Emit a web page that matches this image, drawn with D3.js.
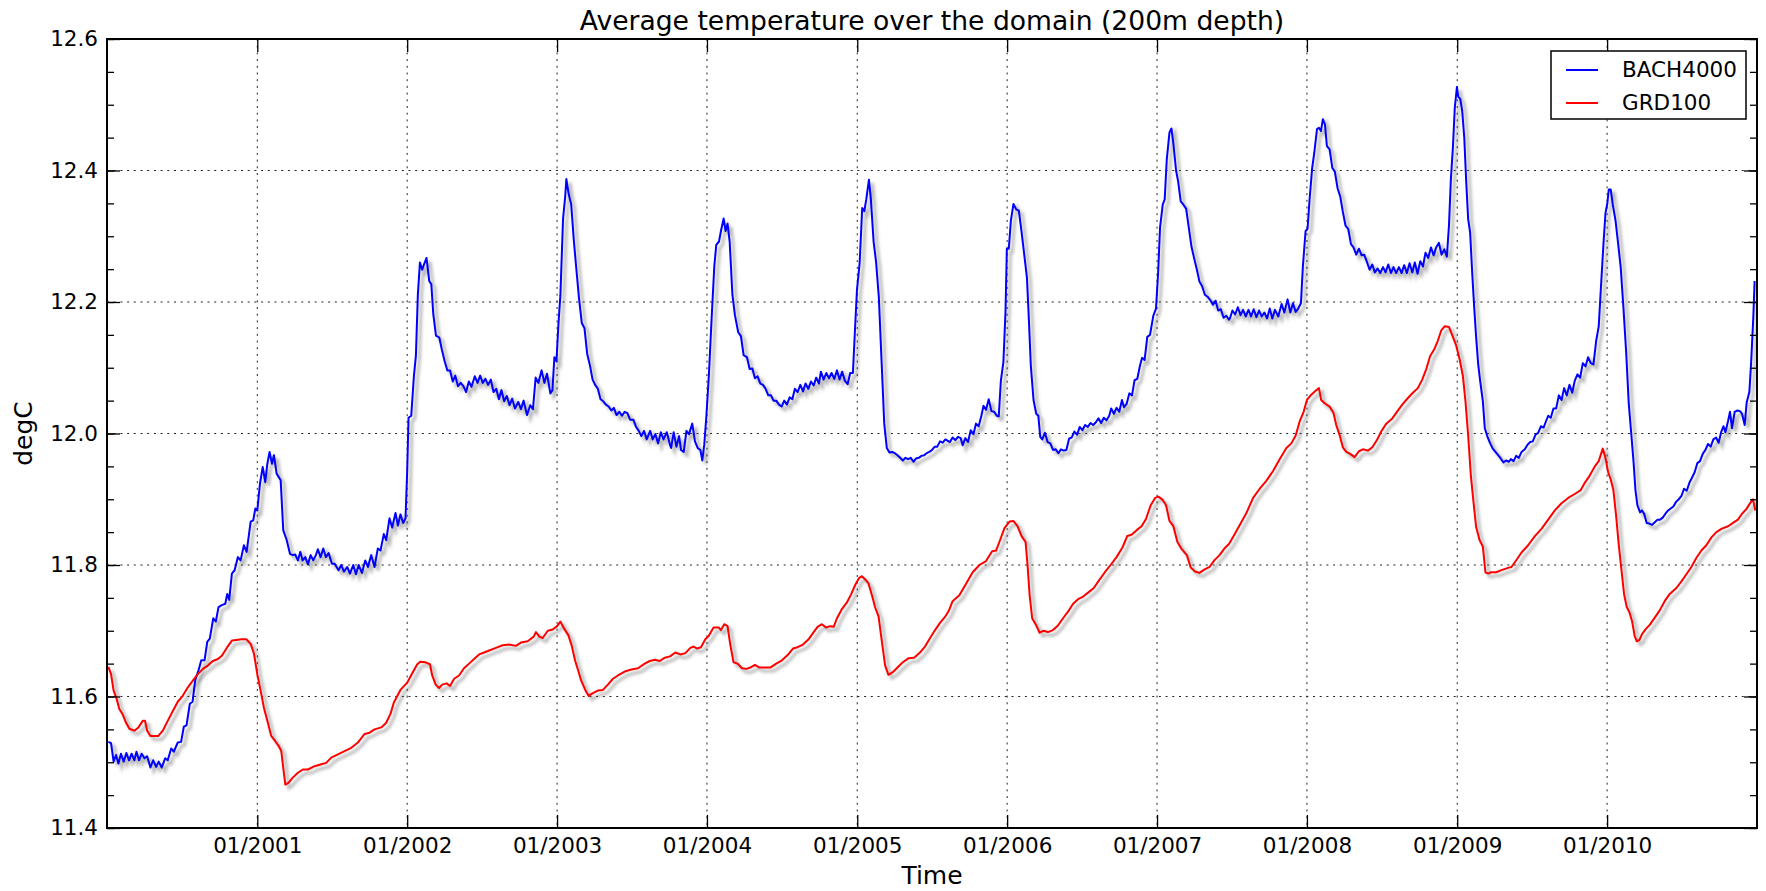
<!DOCTYPE html>
<html>
<head>
<meta charset="utf-8">
<title>Average temperature over the domain (200m depth)</title>
<script src="https://cdn.jsdelivr.net/npm/d3@7"></script>
<style>
  html, body { margin: 0; padding: 0; background: #fff; }
  svg { display: block; font-family: "DejaVu Sans", sans-serif; }
</style>
</head>
<body>
<svg id="chart" width="1766" height="891"></svg>
<script>
"use strict";

const START_YEAR = 2000;
const END_YEAR = 2011;
const yearTicks = [2001, 2002, 2003, 2004, 2005, 2006, 2007, 2008, 2009, 2010];
const seriesNames = ["BACH4000", "GRD100"];
const seriesColors = ["#0000ff", "#ff0000"];

// time is in years since 01/2000, values in degC

const bachT = [
  0.009,0.027,0.044,0.060,0.076,0.093,0.111,0.129,0.147,0.164,
  0.182,0.196,0.213,0.231,0.249,0.267,0.289,0.307,0.327,0.344,
  0.364,0.387,0.404,0.427,0.444,0.471,0.493,0.511,0.529,0.551,
  0.569,0.587,0.609,0.627,0.649,0.667,0.684,0.707,0.724,0.742,
  0.764,0.787,0.800,0.813,0.831,0.849,0.871,0.889,0.911,0.929,
  0.956,0.973,0.987,1.000,1.018,1.036,1.053,1.067,1.082,1.098,
  1.111,1.129,1.156,1.173,1.196,1.218,1.236,1.253,1.271,1.287,
  1.302,1.320,1.338,1.356,1.373,1.391,1.404,1.422,1.440,1.458,
  1.476,1.498,1.516,1.542,1.560,1.578,1.600,1.618,1.640,1.658,
  1.676,1.698,1.720,1.738,1.760,1.782,1.804,1.822,1.844,1.860,1.882,
  1.900,1.922,1.938,1.955,1.973,1.989,2.000,2.009,2.027,2.045,
  2.058,2.071,2.085,2.100,2.112,2.129,2.147,2.161,2.174,2.192,
  2.214,2.232,2.250,2.268,2.286,2.304,2.321,2.339,2.357,2.375,
  2.393,2.411,2.429,2.451,2.469,2.487,2.504,2.522,2.540,2.558,
  2.576,2.594,2.612,2.629,2.647,2.665,2.683,2.701,2.719,2.741,
  2.759,2.777,2.799,2.821,2.839,2.857,2.875,2.897,2.915,2.933,
  2.955,2.969,2.982,2.996,3.009,3.022,3.040,3.054,3.062,3.076,
  3.085,3.094,3.112,3.129,3.147,3.165,3.183,3.201,3.219,3.237,
  3.254,3.272,3.290,3.308,3.326,3.344,3.362,3.379,3.397,3.415,
  3.433,3.451,3.469,3.487,3.509,3.527,3.545,3.562,3.580,3.598,
  3.621,3.638,3.656,3.674,3.692,3.710,3.732,3.754,
  3.761,3.778,3.796,3.814,3.827,3.845,3.863,3.880,3.902,3.920,
  3.938,3.956,3.969,3.982,3.996,4.013,4.031,4.049,4.062,4.080,
  4.093,4.111,4.124,4.137,4.151,4.169,4.186,4.208,4.226,4.244,
  4.266,4.284,4.302,4.319,4.337,4.355,4.373,4.390,4.408,4.426,
  4.443,4.461,4.479,4.497,4.514,4.532,4.550,4.568,4.585,4.603,
  4.621,4.639,4.656,4.674,4.692,4.710,4.727,4.745,4.758,4.776,
  4.794,4.812,4.829,4.847,4.865,4.882,4.900,4.918,4.936,4.953,
  4.971,4.984,4.998,5.016,5.033,5.047,5.060,5.078,5.091,5.109,
  5.126,5.144,5.162,5.180,5.197,5.215,5.233,5.251,5.268,5.286,
  5.304,5.322,5.339,5.357,5.375,5.392,5.410,5.428,5.446,5.463,
  5.481,5.499,5.517,5.534,5.552,5.570,5.588,5.610,
  5.618,5.636,5.654,5.672,5.690,5.703,5.721,5.739,5.757,5.775,
  5.792,5.810,5.828,5.842,5.859,5.877,5.895,5.913,5.931,5.944,
  5.958,5.975,5.989,5.998,6.011,6.025,6.042,6.060,6.078,6.096,
  6.114,6.132,6.145,6.158,6.176,6.194,6.208,6.221,6.234,6.252,
  6.270,6.288,6.306,6.324,6.342,6.359,6.377,6.395,6.413,6.431,
  6.449,6.467,6.484,6.502,6.520,6.538,6.556,6.574,6.592,6.609,
  6.627,6.645,6.663,6.681,6.694,6.712,6.730,6.748,6.766,6.779,
  6.797,6.815,6.833,6.850,6.868,6.886,6.900,6.917,6.935,6.953,
  6.975,6.993,7.007,7.020,7.038,7.051,7.065,7.083,7.096,7.109,
  7.127,7.141,7.158,7.176,7.194,7.212,7.230,7.248,7.266,7.283,
  7.301,7.319,7.337,7.355,7.373,7.391,7.408,7.426,7.444,7.462,7.480,
  7.486,7.503,7.521,7.539,7.557,7.574,7.592,7.610,7.627,7.645,
  7.663,7.681,7.698,7.716,7.734,7.752,7.769,7.787,7.809,7.831,
  7.849,7.871,7.889,7.907,7.925,7.942,7.960,7.973,7.991,8.004,
  8.018,8.035,8.049,8.067,8.080,8.093,8.106,8.120,8.133,8.151,
  8.169,8.186,8.204,8.222,8.239,8.257,8.275,8.293,8.310,8.328,
  8.346,8.364,8.381,8.399,8.417,8.435,8.452,8.470,8.488,8.506,
  8.523,8.541,8.559,8.576,8.594,8.612,8.630,8.647,8.665,8.683,
  8.701,8.718,8.736,8.754,8.772,8.789,8.807,8.825,8.843,8.860,
  8.878,8.896,8.914,8.931,8.945,8.958,8.971,8.984,8.998,9.007,
  9.020,9.033,9.047,9.060,9.073,9.086,9.100,9.113,9.126,9.140,
  9.153,9.171,9.184,9.202,9.220,9.237,9.255,9.273,9.290,9.308,
  9.326,9.344,
  9.358,9.376,9.393,9.411,9.429,9.451,9.469,9.487,9.504,9.522,
  9.540,9.558,9.576,9.593,9.607,9.624,9.642,9.660,9.678,9.696,
  9.713,9.731,9.749,9.767,9.784,9.802,9.820,9.838,9.856,9.873,
  9.891,9.909,9.927,9.944,9.962,9.976,9.989,10.002,10.011,10.024,
  10.038,10.056,10.073,10.091,10.109,10.127,10.144,10.162,10.176,10.189,
  10.202,10.220,10.233,10.247,10.264,10.282,10.300,10.318,10.336,10.353,
  10.371,10.389,10.407,10.424,10.442,10.460,10.478,10.496,10.513,10.531,
  10.549,10.567,10.584,10.602,10.620,10.638,10.656,10.673,10.691,10.709,
  10.727,10.744,10.762,10.776,10.789,10.807,10.820,10.833,10.851,10.869,
  10.887,10.900,10.918,10.931,10.949,10.962,10.976,10.984
];

const bachV = [
  11.531,11.529,11.501,11.511,11.498,11.513,11.501,11.514,11.503,11.513,
  11.503,11.516,11.503,11.513,11.506,11.509,11.492,11.503,11.493,11.501,
  11.492,11.506,11.503,11.521,11.516,11.530,11.531,11.554,11.556,11.589,
  11.592,11.625,11.640,11.655,11.655,11.683,11.688,11.719,11.714,11.736,
  11.739,11.741,11.756,11.747,11.787,11.792,11.812,11.807,11.830,11.820,
  11.866,11.868,11.886,11.883,11.924,11.949,11.926,11.954,11.972,11.954,
  11.967,11.939,11.929,11.853,11.838,11.817,11.815,11.816,11.807,11.820,
  11.807,11.812,11.801,11.815,11.807,11.815,11.824,11.812,11.825,11.812,
  11.818,11.802,11.802,11.792,11.800,11.790,11.797,11.787,11.800,11.786,
  11.800,11.788,11.807,11.797,11.815,11.797,11.825,11.822,11.847,11.838,11.871,
  11.857,11.879,11.860,11.877,11.864,11.871,11.943,12.024,12.027,12.088,
  12.118,12.210,12.260,12.249,12.257,12.267,12.232,12.227,12.182,12.149,
  12.146,12.127,12.110,12.096,12.096,12.079,12.088,12.072,12.077,12.072,
  12.063,12.079,12.071,12.087,12.077,12.088,12.077,12.083,12.074,12.082,
  12.063,12.068,12.052,12.066,12.049,12.057,12.043,12.053,12.038,12.048,
  12.037,12.050,12.028,12.043,12.037,12.085,12.077,12.096,12.077,12.091,
  12.061,12.066,12.116,12.110,12.166,12.210,12.327,12.360,12.387,12.366,
  12.357,12.349,12.293,12.249,12.204,12.168,12.160,12.121,12.104,12.082,
  12.074,12.068,12.052,12.049,12.044,12.041,12.035,12.039,12.028,12.033,
  12.027,12.033,12.031,12.021,12.021,12.010,12.004,11.996,12.004,11.991,
  12.004,11.991,11.999,11.985,12.002,11.991,12.002,11.982,
  11.978,12.002,11.980,11.996,11.975,11.972,12.004,11.999,12.015,11.988,
  11.978,11.975,11.959,11.983,12.026,12.090,12.175,12.255,12.287,12.292,
  12.308,12.327,12.308,12.319,12.292,12.212,12.180,12.154,12.148,12.119,
  12.116,12.098,12.099,12.084,12.087,12.076,12.074,12.068,12.058,12.058,
  12.050,12.050,12.044,12.041,12.050,12.044,12.055,12.052,12.068,12.063,
  12.074,12.064,12.076,12.068,12.079,12.073,12.085,12.076,12.094,12.082,
  12.092,12.084,12.092,12.083,12.096,12.082,12.094,12.080,12.075,12.092,
  12.092,12.154,12.218,12.260,12.343,12.338,12.356,12.386,12.356,12.292,
  12.260,12.207,12.111,12.015,11.978,11.971,11.972,11.970,11.967,11.963,
  11.959,11.963,11.961,11.963,11.957,11.962,11.963,11.966,11.967,11.970,
  11.972,11.975,11.980,11.980,11.988,11.986,11.991,11.988,
  11.987,11.994,11.990,11.995,11.993,11.982,11.993,11.987,12.005,11.999,
  12.015,12.011,12.027,12.042,12.036,12.052,12.034,12.033,12.027,12.026,
  12.080,12.109,12.185,12.281,12.281,12.324,12.349,12.341,12.339,12.307,
  12.272,12.237,12.173,12.103,12.051,12.030,12.027,11.995,11.991,12.001,
  11.987,11.985,11.975,11.976,11.970,11.976,11.974,11.975,11.992,11.994,
  12.003,11.998,12.010,12.005,12.013,12.010,12.016,12.013,12.017,12.023,
  12.016,12.024,12.020,12.027,12.038,12.030,12.039,12.033,12.051,12.040,
  12.045,12.061,12.058,12.081,12.083,12.103,12.115,12.112,12.147,12.150,
  12.179,12.190,12.243,12.313,12.348,12.356,12.417,12.458,12.464,12.441,
  12.400,12.383,12.353,12.348,12.342,12.313,12.284,12.266,12.249,12.231,
  12.224,12.211,12.208,12.203,12.196,12.202,12.187,12.189,12.176,12.179,12.173,
  12.175,12.187,12.181,12.192,12.180,12.188,12.178,12.188,12.178,12.189,
  12.177,12.187,12.178,12.184,12.175,12.190,12.175,12.188,12.178,12.197,
  12.184,12.204,12.184,12.198,12.185,12.190,12.198,12.254,12.308,12.311,
  12.357,12.404,12.427,12.463,12.465,12.460,12.478,12.470,12.437,12.432,
  12.404,12.398,12.373,12.360,12.337,12.316,12.311,12.288,12.283,12.272,
  12.281,12.271,12.272,12.261,12.249,12.257,12.245,12.251,12.244,12.253,
  12.245,12.257,12.244,12.253,12.244,12.253,12.244,12.256,12.244,12.259,
  12.245,12.260,12.243,12.262,12.254,12.275,12.267,12.283,12.271,12.283,
  12.290,12.272,12.280,12.269,12.316,12.388,12.434,12.496,12.527,12.512,
  12.509,12.491,12.450,12.383,12.326,12.306,12.244,12.193,12.147,12.105,
  12.080,12.049,12.008,11.995,11.985,11.977,11.972,11.967,11.962,11.956,
  11.959,11.957,
  11.961,11.958,11.966,11.963,11.972,11.976,11.983,11.987,11.988,11.998,
  12.001,12.011,12.009,12.019,12.027,12.024,12.038,12.038,12.058,12.051,
  12.069,12.058,12.074,12.062,12.080,12.090,12.085,12.107,12.102,12.116,
  12.107,12.105,12.141,12.163,12.235,12.290,12.335,12.351,12.371,12.371,
  12.348,12.324,12.290,12.252,12.191,12.124,12.047,11.997,11.958,11.914,
  11.891,11.880,11.883,11.878,11.864,11.863,11.861,11.865,11.869,11.869,
  11.872,11.878,11.883,11.886,11.889,11.896,11.900,11.905,11.916,11.913,
  11.925,11.933,11.941,11.955,11.958,11.969,11.975,11.984,11.980,11.991,
  11.994,11.986,12.003,12.011,12.002,12.019,12.033,12.008,12.033,12.035,
  12.034,12.030,12.013,12.047,12.063,12.113,12.180,12.232
];

const grdT = [
  0.009,0.027,0.044,0.062,0.082,0.104,0.127,0.149,0.182,0.209,
  0.238,0.253,0.267,0.289,0.316,0.342,0.371,0.404,0.438,0.471,
  0.504,0.538,0.571,0.604,0.638,0.671,0.704,0.738,0.764,0.800,
  0.831,0.860,0.893,0.927,0.956,0.978,1.000,1.022,1.044,1.067,
  1.093,1.120,1.142,1.160,1.173,1.187,1.209,1.238,1.271,1.304,
  1.338,1.382,1.427,1.460,1.493,1.538,1.582,1.627,1.671,1.716,
  1.749,1.782,1.827,1.860,1.889,
  1.911,1.955,2.000,2.033,2.067,2.089,2.123,2.152,2.167,2.190,
  2.212,2.234,2.263,2.286,2.313,2.346,2.379,2.413,2.446,2.480,
  2.513,2.547,2.592,2.636,2.681,2.725,2.759,2.804,2.844,2.859,
  2.882,2.904,2.938,2.971,3.000,3.022,3.045,3.076,3.098,3.121,
  3.143,3.161,3.188,3.210,3.239,3.272,3.306,3.339,3.373,3.406,
  3.451,3.496,3.540,3.585,3.618,3.652,3.685,3.719,3.754,
  3.789,3.823,3.856,3.889,3.911,3.933,3.960,3.989,4.011,4.044,
  4.078,4.093,4.115,4.137,4.155,4.177,4.204,4.233,4.262,4.288,
  4.319,4.350,4.381,4.421,4.461,4.499,4.537,4.572,4.603,4.639,
  4.676,4.710,4.736,4.765,4.792,4.820,4.843,4.865,4.898,4.931,
  4.958,4.987,5.011,5.031,5.053,5.075,5.098,5.120,5.142,5.164,
  5.186,5.208,5.237,5.268,5.304,5.341,5.379,5.415,5.452,5.486,
  5.519,5.552,5.585,5.610,
  5.636,5.681,5.725,5.770,5.815,5.859,5.900,5.926,5.953,5.982,
  6.016,6.042,6.069,6.096,6.123,6.136,6.150,6.167,6.190,6.217,
  6.243,6.272,6.306,6.339,6.373,6.406,6.440,6.473,6.507,6.540,
  6.578,6.614,6.652,6.690,6.730,6.770,6.801,6.830,6.864,6.897,
  6.926,6.958,6.987,7.009,7.038,7.060,7.083,7.109,7.136,7.165,
  7.199,7.225,7.254,7.283,7.315,7.350,7.382,7.417,7.449,7.480,
  7.508,7.552,7.596,7.641,7.685,7.729,7.774,7.818,7.863,7.896,
  7.925,7.951,7.978,8.000,8.029,8.058,8.080,8.095,8.118,8.151,
  8.177,8.195,8.217,8.239,8.262,8.288,8.317,8.346,8.373,8.406,
  8.435,8.466,8.494,8.528,8.568,8.599,8.634,8.672,8.705,8.738,
  8.767,8.794,8.820,8.849,8.871,8.894,8.916,8.945,8.971,8.993,
  9.016,9.038,9.055,9.073,9.091,9.109,9.126,9.149,9.171,9.188,
  9.206,9.226,9.259,9.304,9.344,
  9.362,9.396,9.429,9.473,9.518,9.562,9.607,9.651,9.696,9.740,
  9.784,9.824,9.851,9.884,9.918,9.944,9.971,9.989,10.007,10.024,
  10.042,10.060,10.078,10.096,10.113,10.131,10.149,10.167,10.184,10.198,
  10.216,10.233,10.256,10.284,10.318,10.351,10.384,10.418,10.462,10.496,
  10.529,10.562,10.596,10.629,10.662,10.696,10.729,10.762,10.807,10.840,
  10.873,10.900,10.929,10.951,10.973,10.989
];

const grdV = [
  11.645,11.634,11.609,11.598,11.581,11.573,11.560,11.551,11.548,11.553,
  11.563,11.563,11.548,11.540,11.540,11.540,11.548,11.563,11.578,11.592,
  11.601,11.614,11.624,11.634,11.642,11.647,11.654,11.657,11.662,11.675,
  11.685,11.686,11.687,11.687,11.680,11.665,11.634,11.609,11.583,11.563,
  11.540,11.532,11.525,11.517,11.492,11.466,11.469,11.477,11.484,11.489,
  11.489,11.494,11.497,11.499,11.507,11.512,11.517,11.522,11.530,11.543,
  11.545,11.550,11.553,11.560,11.574,
  11.591,11.610,11.621,11.635,11.649,11.653,11.652,11.649,11.632,11.618,
  11.613,11.618,11.620,11.616,11.627,11.632,11.643,11.650,11.657,11.664,
  11.667,11.670,11.674,11.678,11.679,11.677,11.682,11.684,11.691,11.698,
  11.691,11.689,11.700,11.702,11.707,11.714,11.704,11.693,11.677,11.654,
  11.638,11.624,11.610,11.601,11.605,11.609,11.610,11.618,11.627,11.632,
  11.638,11.641,11.643,11.650,11.654,11.656,11.654,11.659,11.661,
  11.667,11.664,11.666,11.674,11.676,11.673,11.675,11.687,11.692,11.705,
  11.705,11.701,11.710,11.707,11.679,11.652,11.650,11.643,11.642,11.644,
  11.648,11.644,11.644,11.644,11.650,11.655,11.663,11.673,11.675,11.679,
  11.687,11.698,11.706,11.710,11.705,11.707,11.706,11.719,11.733,11.743,
  11.755,11.770,11.780,11.783,11.778,11.772,11.754,11.735,11.722,11.684,
  11.647,11.633,11.637,11.644,11.652,11.658,11.659,11.666,11.676,11.689,
  11.701,11.712,11.721,11.730,
  11.745,11.754,11.771,11.789,11.800,11.806,11.821,11.822,11.838,11.856,
  11.866,11.867,11.859,11.844,11.835,11.800,11.754,11.719,11.710,11.697,
  11.700,11.698,11.701,11.708,11.719,11.729,11.741,11.748,11.752,11.758,
  11.765,11.777,11.789,11.800,11.812,11.827,11.844,11.846,11.853,11.859,
  11.870,11.891,11.902,11.904,11.899,11.891,11.867,11.859,11.835,11.824,
  11.815,11.796,11.790,11.788,11.793,11.797,11.807,11.815,11.825,11.832,
  11.843,11.861,11.879,11.902,11.916,11.928,11.943,11.961,11.978,11.985,
  11.997,12.018,12.033,12.051,12.059,12.065,12.069,12.051,12.046,12.041,
  12.031,12.013,11.998,11.979,11.972,11.969,11.964,11.973,11.976,11.974,
  11.979,11.990,12.003,12.015,12.023,12.033,12.044,12.054,12.062,12.069,
  12.082,12.098,12.118,12.129,12.141,12.157,12.163,12.162,12.147,12.134,
  12.113,12.087,12.049,11.997,11.936,11.895,11.858,11.838,11.828,11.789,
  11.787,11.789,11.789,11.793,11.796,
  11.797,11.808,11.819,11.830,11.844,11.855,11.869,11.883,11.894,11.902,
  11.908,11.914,11.925,11.936,11.950,11.958,11.977,11.963,11.941,11.930,
  11.914,11.875,11.830,11.792,11.756,11.736,11.728,11.714,11.692,11.684,
  11.686,11.695,11.702,11.709,11.720,11.731,11.745,11.756,11.765,11.775,
  11.786,11.797,11.811,11.822,11.830,11.842,11.850,11.855,11.859,11.864,
  11.869,11.878,11.885,11.893,11.900,11.883
];

/* turns "years since 01/2000" into a date */
function toDate(t) {
  const year = START_YEAR + Math.floor(t);
  const a = Date.UTC(year, 0, 1);
  const b = Date.UTC(year + 1, 0, 1);
  return new Date(a + (t - Math.floor(t)) * (b - a));
}

function makeSeries(times, values) {
  const n = Math.min(times.length, values.length);
  return d3.range(n).map(i => ({ t: toDate(times[i]), v: values[i] }));
}

function createChart() {
  const margin = { top: 39, right: 9, bottom: 63, left: 107 };
  const width = 1766 - margin.left - margin.right;
  const height = 891 - margin.top - margin.bottom;

  const svg = d3.select("#chart");
  const chart = svg.append("g")
    .attr("transform", `translate(${margin.left}, ${margin.top})`);

  const xScale = d3.scaleUtc()
    .domain([toDate(0), toDate(END_YEAR - START_YEAR)])
    .range([0, width]);
  const yScale = d3.scaleLinear()
    .domain([11.4, 12.6])
    .range([height, 0]);

  const yMajor = d3.ticks(11.4, 12.6, 6);
  const yMinor = d3.ticks(11.4, 12.6, 24);
  const xMajor = yearTicks.map(y => toDate(y - START_YEAR));

  const defs = svg.append("defs");
  defs.append("clipPath")
    .attr("id", "plot-clip")
    .append("rect")
    .attr("width", width)
    .attr("height", height);
  defs.append("filter")
    .attr("id", "soft")
    .attr("x", "-5%").attr("y", "-5%")
    .attr("width", "110%").attr("height", "110%")
    .append("feGaussianBlur")
    .attr("stdDeviation", 1.6);

  // dotted grid
  const grid = chart.append("g")
    .attr("stroke", "#222")
    .attr("stroke-width", 1)
    .attr("stroke-dasharray", "2,4.7");
  grid.selectAll(".hgrid")
    .data(yMajor.slice(1, -1))
    .enter().append("line")
    .attr("x1", 0).attr("x2", width)
    .attr("y1", d => yScale(d)).attr("y2", d => yScale(d));
  grid.selectAll(".vgrid")
    .data(xMajor)
    .enter().append("line")
    .attr("y1", 0).attr("y2", height)
    .attr("x1", d => xScale(d)).attr("x2", d => xScale(d));

  const line = d3.line()
    .x(d => xScale(d.t))
    .y(d => yScale(d.v));

  const series = [makeSeries(bachT, bachV), makeSeries(grdT, grdV)];
  const plot = chart.append("g").attr("clip-path", "url(#plot-clip)");

  series.forEach((data) => {
    plot.append("path")
      .datum(data)
      .attr("d", line)
      .attr("transform", "translate(3.5, 3.5)")
      .attr("fill", "none")
      .attr("stroke", "#555")
      .attr("stroke-opacity", 0.4)
      .attr("stroke-width", 3)
      .attr("filter", "url(#soft)");
  });
  series.forEach((data, i) => {
    plot.append("path")
      .datum(data)
      .attr("d", line)
      .attr("fill", "none")
      .attr("stroke", seriesColors[i])
      .attr("stroke-width", 2)
      .attr("stroke-linejoin", "round");
  });

  drawAxes(chart, xScale, yScale, xMajor, yMajor, yMinor, width, height);
  addLabels(svg, chart, width, height, margin);
  addLegend(svg);
}

function styleAxis(g) {
  g.attr("font-size", null).attr("font-family", null);
  g.select(".domain").remove();
  g.selectAll(".tick line").attr("stroke", "#000").attr("stroke-width", 1.3);
  g.selectAll(".tick text")
    .attr("fill", "#000")
    .style("font-size", "21.5px");
}

function drawAxes(chart, xScale, yScale, xMajor, yMajor, yMinor, width, height) {
  chart.append("g")
    .call(d3.axisLeft(yScale).tickValues(yMinor).tickSize(-7).tickFormat(""))
    .call(styleAxis);
  chart.append("g")
    .call(d3.axisLeft(yScale).tickValues(yMajor).tickSize(-13).tickPadding(9)
      .tickFormat(d3.format(".1f")))
    .call(styleAxis);

  chart.append("g")
    .attr("transform", `translate(${width}, 0)`)
    .call(d3.axisRight(yScale).tickValues(yMinor).tickSize(-7).tickFormat(""))
    .call(styleAxis);
  chart.append("g")
    .attr("transform", `translate(${width}, 0)`)
    .call(d3.axisRight(yScale).tickValues(yMajor).tickSize(-13).tickFormat(""))
    .call(styleAxis);

  chart.append("g")
    .attr("transform", `translate(0, ${height})`)
    .call(d3.axisBottom(xScale).tickValues(xMajor).tickSize(-13).tickPadding(10)
      .tickFormat(d3.utcFormat("%m/%Y")))
    .call(styleAxis);
  chart.append("g")
    .call(d3.axisTop(xScale).tickValues(xMajor).tickSize(-13).tickFormat(""))
    .call(styleAxis);

  chart.append("rect")
    .attr("width", width)
    .attr("height", height)
    .attr("fill", "none")
    .attr("stroke", "#000")
    .attr("stroke-width", 2);
}

function addLabels(svg, chart, width, height, margin) {
  svg.append("text")
    .attr("x", margin.left + width / 2)
    .attr("y", 30)
    .attr("text-anchor", "middle")
    .style("font-size", "26.6px")
    .text("Average temperature over the domain (200m depth)");

  chart.append("text")
    .attr("x", width / 2)
    .attr("y", height + 56)
    .attr("text-anchor", "middle")
    .style("font-size", "25px")
    .text("Time");

  svg.append("text")
    .attr("transform", `translate(32, ${margin.top + height / 2}) rotate(-90)`)
    .attr("text-anchor", "middle")
    .style("font-size", "25px")
    .text("degC");
}

function addLegend(svg) {
  const legend = svg.append("g").attr("transform", "translate(1551, 51)");
  legend.append("rect")
    .attr("width", 195)
    .attr("height", 68)
    .attr("fill", "#fff")
    .attr("stroke", "#000")
    .attr("stroke-width", 1.5);

  const rows = legend.selectAll(".row")
    .data(seriesNames)
    .enter().append("g")
    .attr("transform", (d, i) => `translate(0, ${19 + i * 33})`);
  rows.append("line")
    .attr("x1", 15).attr("x2", 47)
    .attr("stroke", (d, i) => seriesColors[i])
    .attr("stroke-width", 2);
  rows.append("text")
    .attr("x", 71)
    .attr("y", 7)
    .style("font-size", "21.5px")
    .text(d => d);
}

createChart();
</script>
</body>
</html>
